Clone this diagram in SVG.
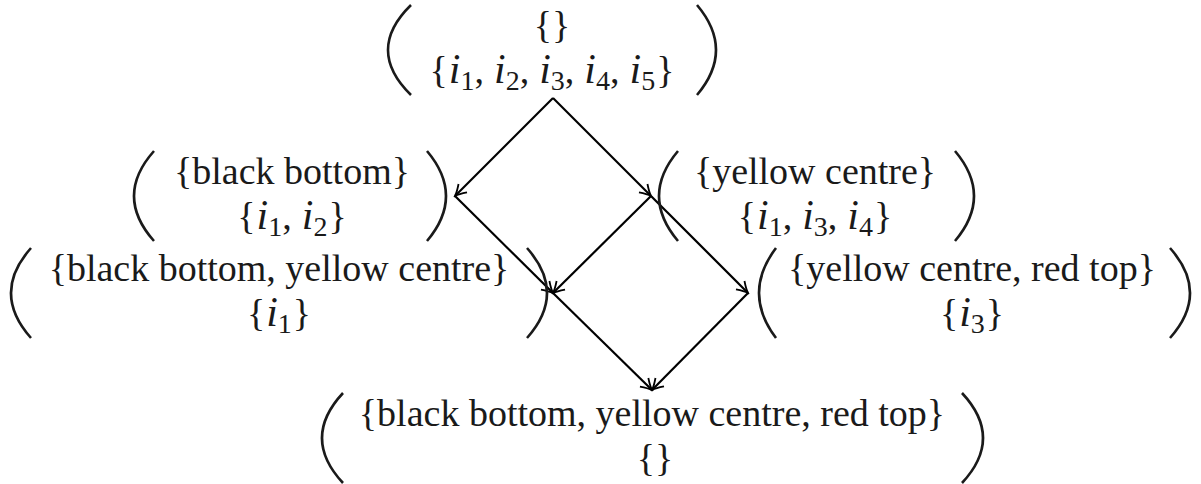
<svg xmlns="http://www.w3.org/2000/svg" width="1201" height="484" viewBox="0 0 1201 484">
<style>
.t{font-family:"Liberation Serif","Times New Roman",serif;font-size:38px;fill:#1a1a1a;text-anchor:middle}
.m{font-style:italic;font-size:42px}
.s{font-size:28px}
.p{fill:none;stroke:#1a1a1a;stroke-width:2.6}
.e{fill:none;stroke:#000;stroke-width:2.2;marker-end:url(#ah)}
</style>
<defs>
<marker id="ah" markerUnits="userSpaceOnUse" viewBox="-13 -8 15 16" refX="0" refY="0" markerWidth="15" markerHeight="16" orient="auto">
<path d="M -11,-6 Q -4,-1.3 0,0 Q -4,1.3 -11,6" fill="none" stroke="#000" stroke-width="1.8"/>
</marker>
</defs>
<rect width="1201" height="484" fill="#fff"/>
<g id="connectors">
<line class="e" x1="553" y1="98" x2="455" y2="196"/>
<line class="e" x1="553" y1="98" x2="651" y2="196"/>
<line class="e" x1="455" y1="196" x2="553" y2="293"/>
<line class="e" x1="651" y1="196" x2="553" y2="293"/>
<line class="e" x1="651" y1="196" x2="748" y2="293"/>
<line class="e" x1="553" y1="293" x2="652" y2="390"/>
<line class="e" x1="748" y1="293" x2="652" y2="390"/>
</g>
<g id="n-top">
<path class="p" d="M411,5 Q365,50 411,95"/>
<path class="p" d="M697,5 Q735,50 697,95"/>
<text class="t" x="552" y="38">{}</text>
<text class="t" x="552" y="83">{<tspan class="m" dx="1">i</tspan><tspan class="s" dy="7">1</tspan><tspan dy="-7">,</tspan><tspan class="m" dx="10">i</tspan><tspan class="s" dy="7">2</tspan><tspan dy="-7">,</tspan><tspan class="m" dx="10">i</tspan><tspan class="s" dy="7">3</tspan><tspan dy="-7">,</tspan><tspan class="m" dx="10">i</tspan><tspan class="s" dy="7">4</tspan><tspan dy="-7">,</tspan><tspan class="m" dx="10">i</tspan><tspan class="s" dy="7">5</tspan><tspan dy="-7" dx="1">}</tspan></text>
</g>
<g id="n-black">
<path class="p" d="M154,151 Q114,196 154,241"/>
<path class="p" d="M427,151 Q465,196 427,241"/>
<text class="t" x="292" y="183.5">{black bottom}</text>
<text class="t" x="292" y="228.5">{<tspan class="m" dx="1">i</tspan><tspan class="s" dy="7">1</tspan><tspan dy="-7">,</tspan><tspan class="m" dx="10">i</tspan><tspan class="s" dy="7">2</tspan><tspan dy="-7" dx="1">}</tspan></text>
</g>
<g id="n-yellow">
<path class="p" d="M678,151 Q640,196 678,241"/>
<path class="p" d="M955,151 Q993,196 955,241"/>
<text class="t" x="815" y="183.5">{yellow centre}</text>
<text class="t" x="815" y="228.5">{<tspan class="m" dx="1">i</tspan><tspan class="s" dy="7">1</tspan><tspan dy="-7">,</tspan><tspan class="m" dx="10">i</tspan><tspan class="s" dy="7">3</tspan><tspan dy="-7">,</tspan><tspan class="m" dx="10">i</tspan><tspan class="s" dy="7">4</tspan><tspan dy="-7" dx="1">}</tspan></text>
</g>
<g id="n-black-yellow">
<path class="p" d="M31,248 Q-9,293 31,338"/>
<path class="p" d="M527,248 Q567,293 527,338"/>
<text class="t" x="279" y="280.5">{black bottom, yellow centre}</text>
<text class="t" x="279" y="325.5">{<tspan class="m" dx="1">i</tspan><tspan class="s" dy="7">1</tspan><tspan dy="-7" dx="1">}</tspan></text>
</g>
<g id="n-yellow-red">
<path class="p" d="M776,248 Q742,293 776,338"/>
<path class="p" d="M1170,248 Q1210,293 1170,338"/>
<text class="t" x="972" y="280.5">{yellow centre, red top}</text>
<text class="t" x="972" y="325.5">{<tspan class="m" dx="1">i</tspan><tspan class="s" dy="7">3</tspan><tspan dy="-7" dx="1">}</tspan></text>
</g>
<g id="n-bottom">
<path class="p" d="M343,393 Q301,438 343,483"/>
<path class="p" d="M962,393 Q1004,438 962,483"/>
<text class="t" x="652" y="425.5">{black bottom, yellow centre, red top}</text>
<text class="t" x="655" y="470.5">{}</text>
</g>
</svg>
